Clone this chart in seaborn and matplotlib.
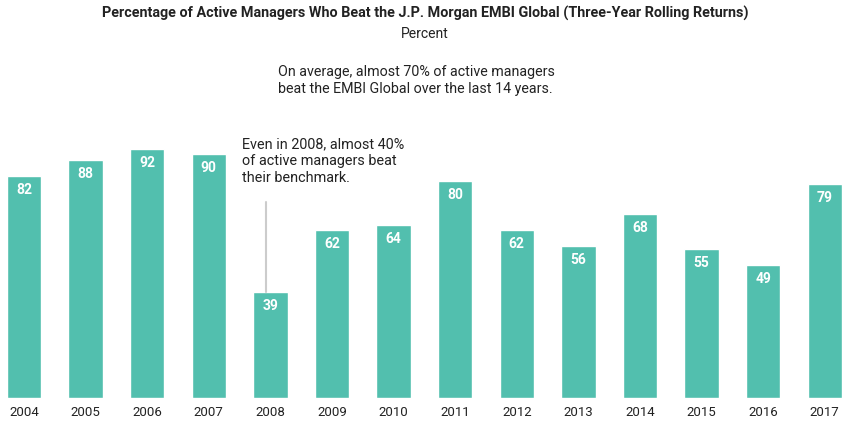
import matplotlib
matplotlib.use("Agg")
import matplotlib.pyplot as plt
import seaborn as sns
import pandas as pd

# share of active managers beating the EMBI Global, by year
years = ["2004", "2005", "2006", "2007", "2008", "2009", "2010",
         "2011", "2012", "2013", "2014", "2015", "2016", "2017"]
pct_beat = [82, 88, 92, 90, 39, 62, 64, 80, 62, 56, 68, 55, 49, 79]

df = pd.DataFrame({"year": years, "pct": pct_beat})

sns.set_style("white")
plt.rcParams["font.family"] = ["Roboto", "DejaVu Sans"]

teal = "#52BFAE"
fig = plt.figure(figsize=(8.5, 4.22), dpi=100)
ax = fig.add_axes([0, 24 / 422, 1, 298 / 422])

sns.barplot(data=df, x="year", y="pct", color=teal, width=0.56,
            saturation=1, ax=ax)

# white value labels inside the bar tops
for i, v in enumerate(pct_beat):
    ax.text(i, v - 2.6, str(v), ha="center", va="top", color="white",
            fontsize=10, fontweight="bold")

ax.set_xlim(-0.39, 13.41)
ax.set_ylim(0, 110)
ax.set_xlabel("")
ax.set_ylabel("")
ax.set_yticks([])
ax.tick_params(axis="x", length=0, pad=6, labelsize=9.5, labelcolor="#222222")
sns.despine(ax=ax, left=True, bottom=True)

# callout for 2008
ax.plot([3.93, 3.93], [39, 72.5], color="#cccccc", lw=1.5)
ax.text(3.54, 87.5, "Even in 2008, almost 40%\nof active managers beat\ntheir benchmark.",
        ha="left", va="center", fontsize=10.4, color="#222222", linespacing=1.25)

fig.text(0.5, 0.985, "Percentage of Active Managers Who Beat the J.P. Morgan EMBI Global (Three-Year Rolling Returns)",
         ha="center", va="top", fontsize=10.4, fontweight="bold", color="#222222")
fig.text(0.5, 0.935, "Percent", ha="center", va="top", fontsize=10, color="#222222")
fig.text(278 / 850, 0.81, "On average, almost 70% of active managers\nbeat the EMBI Global over the last 14 years.",
         ha="left", va="center", fontsize=10.3, color="#222222", linespacing=1.25)

fig.savefig("out.png", dpi=100)
